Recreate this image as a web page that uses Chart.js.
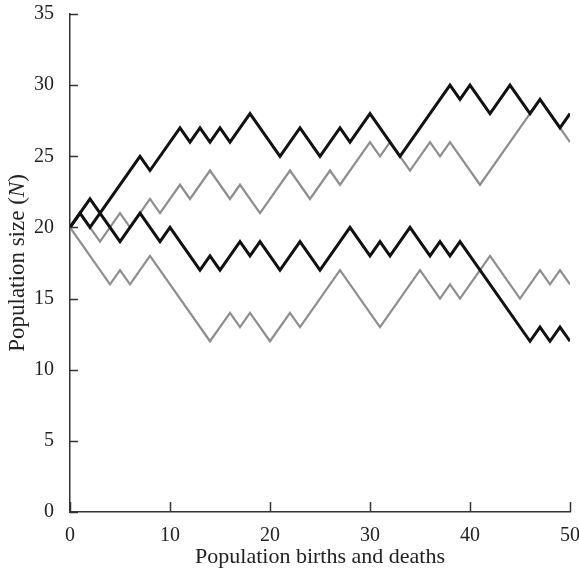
<!DOCTYPE html>
<html>
<head>
<meta charset="utf-8">
<script src="https://cdn.jsdelivr.net/npm/chart.js@4.4.0/dist/chart.umd.min.js"></script>
<style>
  html, body { margin: 0; padding: 0; background: #fff; }
  #wrap { position: relative; width: 579px; height: 574px; }
</style>
</head>
<body>
<div id="wrap"><canvas id="graficoPopulacao" width="579" height="574"></canvas></div>
<script>
const ticksX = [0, 10, 20, 30, 40, 50];
const ticksY = [0, 5, 10, 15, 20, 25, 30, 35];

// vertices das caminhadas (nascimentos e mortes, tamanho da populacao)
const pretoAltoX = [0, 1, 2, 7, 8, 11, 12, 13, 14, 15, 16, 18, 21, 23, 25, 27, 28, 30, 33, 38, 39, 40, 42, 44, 46, 47, 49, 50];
const pretoAltoY = [20, 21, 20, 25, 24, 27, 26, 27, 26, 27, 26, 28, 25, 27, 25, 27, 26, 28, 25, 30, 29, 30, 28, 30, 28, 29, 27, 28];

const pretoBaixoX = [0, 2, 5, 7, 9, 10, 13, 14, 15, 17, 18, 19, 21, 23, 25, 28, 30, 31, 32, 34, 36, 37, 38, 39, 46, 47, 48, 49, 50];
const pretoBaixoY = [20, 22, 19, 21, 19, 20, 17, 18, 17, 19, 18, 19, 17, 19, 17, 20, 18, 19, 18, 20, 18, 19, 18, 19, 12, 13, 12, 13, 12];

const cinzaAltoX = [0, 1, 3, 5, 6, 8, 9, 11, 12, 14, 16, 17, 19, 22, 24, 26, 27, 30, 31, 32, 34, 36, 37, 38, 41, 46, 47, 49, 50];
const cinzaAltoY = [20, 21, 19, 21, 20, 22, 21, 23, 22, 24, 22, 23, 21, 24, 22, 24, 23, 26, 25, 26, 24, 26, 25, 26, 23, 28, 29, 27, 26];

const cinzaBaixoX = [0, 4, 5, 6, 8, 14, 16, 17, 18, 20, 22, 23, 27, 31, 35, 37, 38, 39, 42, 45, 47, 48, 49, 50];
const cinzaBaixoY = [20, 16, 17, 16, 18, 12, 14, 13, 14, 12, 14, 13, 17, 13, 17, 15, 16, 15, 18, 15, 17, 16, 17, 16];

const fonteSerif = "'Liberation Serif', 'DejaVu Serif', serif";

function montarPontos(xs, ys) {
  return xs.map((x, i) => ({ x, y: ys[i] }));
}

function serie(xs, ys, cor, largura) {
  return {
    data: montarPontos(xs, ys),
    borderColor: cor,
    borderWidth: largura,
    borderJoinStyle: "miter",
    pointRadius: 0,
    tension: 0,
    fill: false
  };
}

const marcasInternas = {
  id: "marcasInternas",
  afterDraw(chart) {
    const { ctx, chartArea, scales } = chart;
    ctx.save();
    ctx.strokeStyle = "#333";
    ctx.lineWidth = 1.5;

    ticksY.forEach(v => {
      const y = Math.round(scales.y.getPixelForValue(v)) + 0.5;
      ctx.beginPath();
      ctx.moveTo(chartArea.left, y);
      ctx.lineTo(chartArea.left + 8, y);
      ctx.stroke();
    });

    ticksX.forEach(v => {
      const x = Math.round(scales.x.getPixelForValue(v)) + 0.5;
      ctx.beginPath();
      ctx.moveTo(x, chartArea.bottom);
      ctx.lineTo(x, chartArea.bottom - 10);
      ctx.stroke();
    });

    // titulo do eixo y com N em italico
    const partes = [
      { t: "Population size (", f: "23px " + fonteSerif },
      { t: "N", f: "italic 23px " + fonteSerif },
      { t: ")", f: "23px " + fonteSerif }
    ];
    let total = 0;
    partes.forEach(p => { ctx.font = p.f; p.w = ctx.measureText(p.t).width; total += p.w; });
    ctx.translate(18, (chartArea.top + chartArea.bottom) / 2);
    ctx.rotate(-Math.PI / 2);
    ctx.fillStyle = "#222";
    ctx.textBaseline = "middle";
    ctx.textAlign = "left";
    let pos = -total / 2;
    partes.forEach(p => { ctx.font = p.f; ctx.fillText(p.t, pos, 0); pos += p.w; });
    ctx.restore();
  }
};

new Chart(document.getElementById("graficoPopulacao").getContext("2d"), {
  type: "line",
  data: {
    datasets: [
      serie(pretoAltoX, pretoAltoY, "#111", 3),
      serie(pretoBaixoX, pretoBaixoY, "#111", 3),
      serie(cinzaAltoX, cinzaAltoY, "#8e8e8e", 2.2),
      serie(cinzaBaixoX, cinzaBaixoY, "#8e8e8e", 2.2)
    ]
  },
  options: {
    responsive: false,
    animation: false,
    layout: { padding: { top: 14, right: 9, left: 0, bottom: 0 } },
    plugins: { legend: { display: false }, tooltip: { enabled: false } },
    scales: {
      x: {
        type: "linear",
        min: 0,
        max: 50,
        afterBuildTicks: s => { s.ticks = ticksX.map(v => ({ value: v })); },
        afterFit: s => { s.height = 62; s.paddingLeft = 0; s.paddingRight = 0; },
        grid: { display: false },
        border: { display: true, color: "#333", width: 1.5 },
        ticks: { color: "#222", padding: 4, font: { family: fonteSerif, size: 20 } },
        title: { display: true, text: "Population births and deaths", color: "#222", padding: { top: 0, bottom: 4 }, font: { family: fonteSerif, size: 22 } }
      },
      y: {
        min: 0,
        max: 35,
        afterBuildTicks: s => { s.ticks = ticksY.map(v => ({ value: v })); },
        afterFit: s => { s.width = 70; s.paddingTop = 0; s.paddingBottom = 0; },
        grid: { display: false },
        border: { display: true, color: "#333", width: 1.5 },
        ticks: { color: "#222", padding: 8, font: { family: fonteSerif, size: 20 } }
      }
    }
  },
  plugins: [marcasInternas]
});
</script>
</body>
</html>
